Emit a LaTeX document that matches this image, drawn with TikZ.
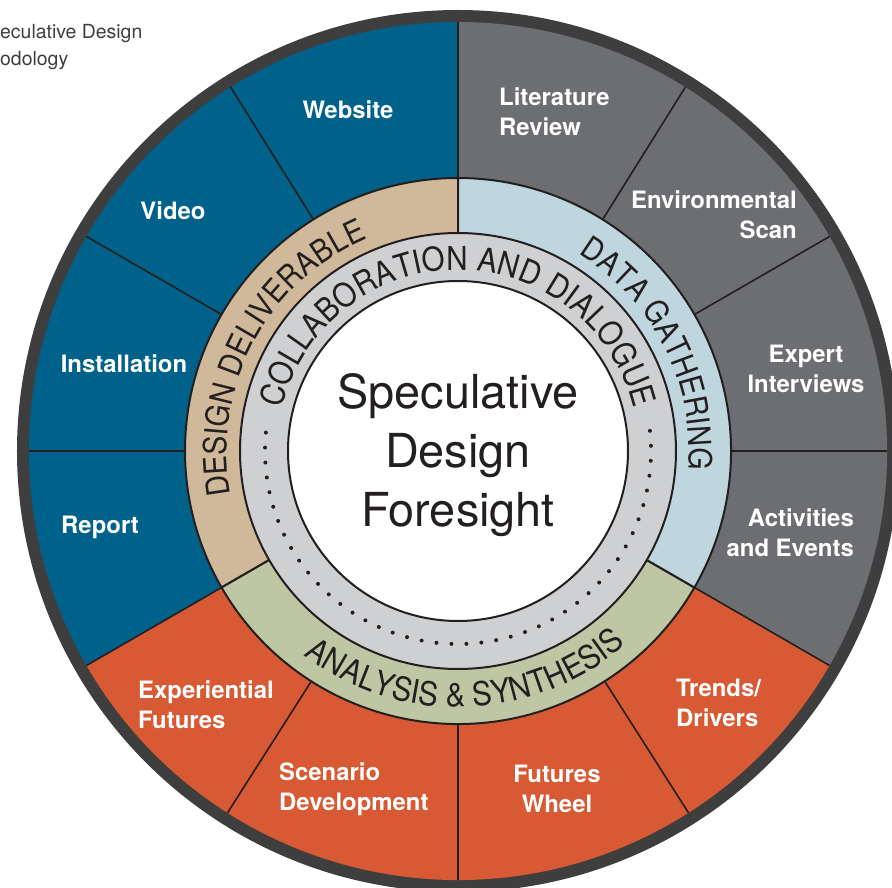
\documentclass[tikz,border=0pt]{standalone}
\usepackage{fontspec}
\setmainfont{TeX Gyre Heros}
\newfontfamily\ringface[FakeStretch=0.9]{TeX Gyre Heros}
\usepackage{tikz}
\usetikzlibrary{decorations.text}

\definecolor{rim}{HTML}{3E3E3E}
\definecolor{ink}{HTML}{231F20}
\definecolor{deliverblue}{HTML}{00628B}
\definecolor{gathergray}{HTML}{6D6E71}
\definecolor{synthorange}{HTML}{D75A34}
\definecolor{tanring}{HTML}{CFB99A}
\definecolor{bluering}{HTML}{BFD6DF}
\definecolor{greenring}{HTML}{BEC6A3}
\definecolor{collabgray}{HTML}{CFD0D1}

\newcommand\ringfont{\ringface\fontsize{32}{38}\selectfont}
\newcommand\synthfont{\ringface\fontsize{33}{39}\selectfont}

\begin{document}
\begin{tikzpicture}[x=1bp,y=1bp,
  seglabel/.style={text=white,font=\bfseries\fontsize{24}{30.5}\selectfont,inner sep=0},
  ringtext/.style={decorate,decoration={text along path,text align=center,text={#1}}}]
  \useasboundingbox (-458,-437) rectangle (434,451);
  \clip (-458,-437) rectangle (434,451);
  % outer ring
  \fill[rim] (0,0) circle [radius=441];
  \fill[deliverblue] (0,0) -- (90:429) arc[start angle=90,end angle=210,radius=429] -- cycle;
  \fill[synthorange] (0,0) -- (210:429) arc[start angle=210,end angle=330,radius=429] -- cycle;
  \fill[gathergray] (0,0) -- (330:429) arc[start angle=330,end angle=450,radius=429] -- cycle;
  \foreach \a in {0,30,58,90,122,150,180,210,237.5,270,302.5,330}
    \draw[ink,line width=1.6bp] (\a:270) -- (\a:429);
  % phase ring
  \draw[ink,line width=2bp,fill=tanring] (0,0) -- (90:273) arc[start angle=90,end angle=210,radius=273] -- cycle;
  \draw[ink,line width=2bp,fill=greenring] (0,0) -- (210:273) arc[start angle=210,end angle=330,radius=273] -- cycle;
  \draw[ink,line width=2bp,fill=bluering] (0,0) -- (330:273) arc[start angle=330,end angle=450,radius=273] -- cycle;
  % collaboration ring and core
  \draw[ink,line width=2bp,fill=collabgray] (0,0) circle [radius=218];
  \draw[ink,line width=4bp,line cap=round,dash pattern=on 0bp off 15bp]
    (6:193) arc[start angle=6,end angle=-186,radius=193];
  \draw[ink,line width=2bp,fill=white] (0,0) circle [radius=170];

  \path[ringtext={|\ringfont\color{ink}|DESIGN DELIVERABLE}] (212:231) arc[start angle=212,end angle=92,radius=231];
  \path[ringtext={|\ringfont\color{ink}|DATA GATHERING}] (87:231) arc[start angle=87,end angle=-33,radius=231];
  \path[ringtext={|\synthfont\color{ink}|ANALYSIS {\&} SYNTHESIS}] (212:256) arc[start angle=212,end angle=332,radius=256];
  \path[ringtext={|\synthfont\color{ink}|COLLABORATION AND DIALOGUE}] (190:181) arc[start angle=190,end angle=-10,radius=181];

  \node[font=\fontsize{47}{59}\selectfont,text=ink,align=center] (core) at (0,-4) {Speculative\\Design\\Foresight};

  % deliverables
  \node[seglabel] (website) at (-110,341) {Website};
  \node[seglabel] (video) at (-285,240) {Video};
  \node[seglabel] (installation) at (-334,87) {Installation};
  \node[seglabel] (report) at (-358,-76) {Report};
  % data gathering
  \node[seglabel,anchor=west,align=left] (literature) at (41,339) {Literature\\Review};
  \node[seglabel,anchor=east,align=right] (environment) at (339,236) {Environmental\\Scan};
  \node[seglabel,align=center] (expert) at (348,82) {Expert\\Interviews};
  \node[seglabel,anchor=east,align=right] (activities) at (396,-82) {Activities\\and Events};
  % analysis
  \node[seglabel,anchor=west,align=left] (trends) at (218,-252) {Trends/\\Drivers};
  \node[seglabel,align=center] (wheel) at (99,-338) {Futures\\Wheel};
  \node[seglabel,anchor=west,align=left] (scenario) at (-179,-338) {Scenario\\Development};
  \node[seglabel,anchor=west,align=left] (experiential) at (-320,-254) {Experiential\\Futures};

  \node[font=\fontsize{19.5}{27}\selectfont,text=rim,align=left,anchor=west,inner sep=0] (caption) at (-458,404) {eculative Design\\odology};
\end{tikzpicture}
\end{document}
